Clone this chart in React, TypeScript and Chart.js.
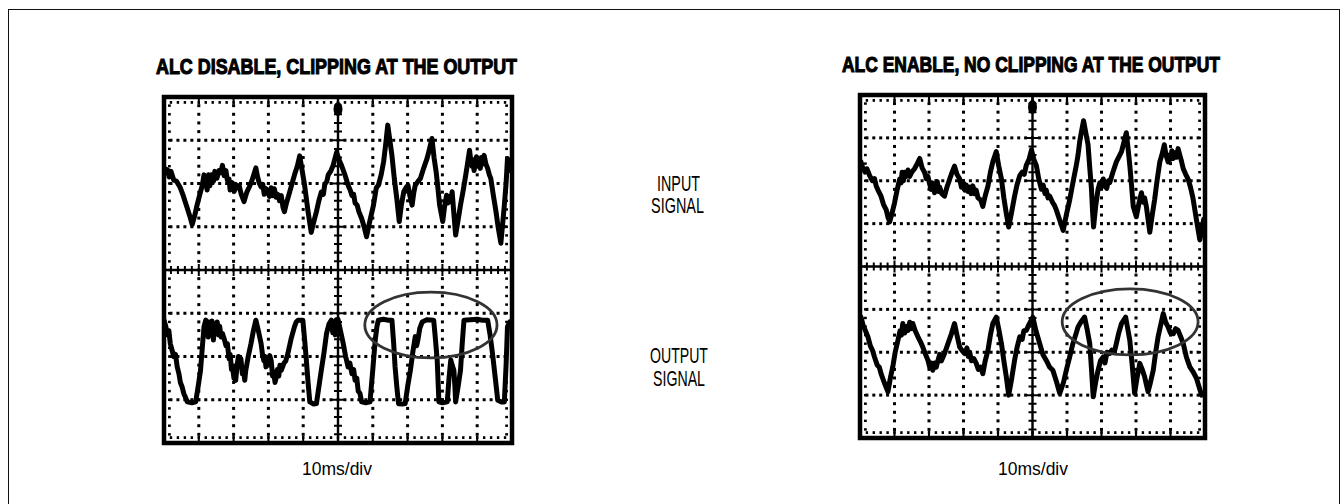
import React, { useEffect, useLayoutEffect, useRef } from "react";
import { Chart, registerables } from "chart.js";
Chart.register(...registerables);

// ---- data (x in time divisions 0..10, y in vertical divisions -4..4) ----
const xRange = [0, 10];
const yRange = [-4, 4];

const leftInput: [number, number][] = [
  [0, 2.38], [0.06, 2.25], [0.1, 2.32], [0.15, 2.15], [0.2, 2.28], [0.28, 2.08], [0.36, 2.05], [0.47, 1.9],
  [0.56, 1.7], [0.66, 1.45], [0.74, 1.25], [0.81, 1.05], [0.88, 1.25], [0.95, 1.5], [1.03, 1.75], [1.1, 1.96],
  [1.15, 2.2], [1.2, 2.05], [1.24, 1.85], [1.28, 2.2], [1.32, 1.95], [1.36, 2.2], [1.42, 2.05], [1.46, 2.28],
  [1.52, 2.12], [1.58, 2.3], [1.63, 2.25], [1.68, 2.42], [1.73, 2.18], [1.78, 2.3], [1.82, 2.08], [1.87, 2.1],
  [1.9, 1.85], [1.96, 2.02], [2.02, 1.82], [2.06, 1.98], [2.1, 1.9], [2.16, 1.95], [2.22, 1.75], [2.3, 1.58],
  [2.38, 1.8], [2.45, 1.92], [2.52, 2.05], [2.58, 2.2], [2.64, 2.36], [2.69, 2.15], [2.74, 2.0], [2.79, 1.92],
  [2.84, 1.98], [2.88, 1.75], [2.93, 1.88], [2.98, 1.82], [3.03, 1.7], [3.08, 1.9], [3.13, 1.72], [3.17, 1.88],
  [3.22, 1.68], [3.27, 1.75], [3.32, 1.6], [3.37, 1.72], [3.42, 1.45], [3.46, 1.35], [3.52, 1.55], [3.61, 1.8],
  [3.68, 2.0], [3.75, 2.2], [3.83, 2.4], [3.9, 2.64], [3.97, 2.3], [4.04, 1.96], [4.14, 1.35], [4.23, 0.87],
  [4.3, 1.1], [4.38, 1.35], [4.45, 1.6], [4.52, 1.8], [4.58, 1.75], [4.62, 1.98], [4.68, 2.05], [4.72, 2.2],
  [4.8, 2.3], [4.86, 2.42], [4.96, 2.72], [5.03, 2.55], [5.1, 2.42], [5.2, 2.2], [5.29, 1.96], [5.35, 1.85],
  [5.4, 1.72], [5.45, 1.75], [5.49, 1.55], [5.55, 1.5], [5.6, 1.35], [5.68, 1.19], [5.75, 1.0], [5.82, 0.77],
  [5.92, 1.15], [6.02, 1.5], [6.1, 1.9], [6.16, 1.96], [6.24, 2.2], [6.31, 2.5], [6.37, 2.9], [6.43, 3.35],
  [6.49, 3.0], [6.55, 2.65], [6.62, 2.1], [6.69, 1.65], [6.76, 1.12], [6.82, 1.5], [6.89, 1.81], [6.95, 1.9],
  [7.01, 1.96], [7.07, 1.7], [7.13, 1.5], [7.18, 1.8], [7.22, 1.96], [7.3, 2.05], [7.37, 2.12], [7.46, 2.35],
  [7.56, 2.58], [7.63, 2.8], [7.7, 3.04], [7.76, 2.6], [7.82, 2.27], [7.87, 1.9], [7.92, 1.5], [8.01, 1.12],
  [8.06, 1.45], [8.12, 1.73], [8.16, 1.55], [8.2, 1.7], [8.24, 1.58], [8.28, 1.81], [8.33, 1.3], [8.38, 0.81],
  [8.45, 1.15], [8.52, 1.5], [8.6, 1.85], [8.67, 2.19], [8.72, 2.45], [8.78, 2.77], [8.82, 2.5], [8.85, 2.4],
  [8.88, 2.55], [8.91, 2.3], [8.95, 2.48], [8.98, 2.62], [9.02, 2.4], [9.05, 2.5], [9.09, 2.35], [9.12, 2.6],
  [9.16, 2.45], [9.2, 2.65], [9.25, 2.45], [9.3, 2.35], [9.35, 2.2], [9.39, 2.12], [9.46, 1.75], [9.54, 1.35],
  [9.6, 1.0], [9.68, 0.62], [9.73, 1.05], [9.78, 1.5], [9.83, 2.0], [9.87, 2.58], [9.94, 2.3],
];

const leftOutput: [number, number][] = [
  [0, -1.16], [0.05, -1.3], [0.1, -1.5], [0.14, -1.4], [0.18, -1.7], [0.23, -1.85], [0.28, -2.0], [0.33, -1.95],
  [0.38, -2.24], [0.43, -2.4], [0.47, -2.6], [0.52, -2.7], [0.57, -2.86], [0.62, -2.95], [0.67, -3.05], [0.8, -3.07],
  [0.91, -3.05], [0.98, -2.7], [1.05, -2.32], [1.1, -1.8], [1.15, -1.31], [1.2, -1.16], [1.24, -1.2], [1.27, -1.55],
  [1.3, -1.2], [1.34, -1.45], [1.38, -1.18], [1.42, -1.62], [1.46, -1.25], [1.5, -1.4], [1.53, -1.2], [1.57, -1.5],
  [1.6, -1.3], [1.64, -1.55], [1.68, -1.47], [1.74, -1.62], [1.78, -1.75], [1.82, -1.7], [1.87, -2.05], [1.9, -1.95],
  [1.94, -2.3], [1.97, -2.25], [2.01, -2.5], [2.06, -2.55], [2.1, -2.2], [2.14, -2.0], [2.18, -2.15], [2.21, -2.05],
  [2.25, -2.4], [2.28, -2.3], [2.32, -2.55], [2.35, -2.32], [2.42, -2.0], [2.5, -1.7], [2.57, -1.4], [2.64, -1.16],
  [2.71, -1.4], [2.79, -1.7], [2.83, -1.95], [2.87, -2.1], [2.9, -2.0], [2.93, -2.24], [2.97, -2.05], [3.0, -2.2],
  [3.04, -1.98], [3.08, -2.1], [3.12, -2.45], [3.15, -2.35], [3.19, -2.6], [3.22, -2.5], [3.26, -2.3], [3.3, -2.45],
  [3.33, -2.2], [3.37, -2.32], [3.45, -2.15], [3.5, -2.1], [3.56, -1.93], [3.65, -1.6], [3.75, -1.31], [3.8, -1.2],
  [3.85, -1.16], [3.99, -1.16], [4.04, -1.6], [4.09, -2.08], [4.14, -2.6], [4.19, -3.05], [4.3, -3.1], [4.38, -3.09],
  [4.45, -2.7], [4.52, -2.32], [4.6, -1.9], [4.67, -1.47], [4.74, -1.25], [4.81, -1.16], [4.85, -1.45], [4.88, -1.2],
  [4.92, -1.5], [4.95, -1.15], [5.0, -1.14], [5.07, -1.4], [5.15, -1.7], [5.22, -2.0], [5.29, -2.24], [5.34, -2.15],
  [5.4, -2.4], [5.45, -2.3], [5.49, -2.55], [5.54, -2.5], [5.58, -2.8], [5.63, -2.85], [5.68, -3.05], [5.8, -3.07],
  [5.92, -3.05], [6.0, -2.3], [6.07, -1.62], [6.12, -1.3], [6.16, -1.16], [6.3, -1.14], [6.45, -1.16], [6.55, -1.16],
  [6.6, -1.7], [6.64, -2.24], [6.69, -2.7], [6.74, -3.09], [6.85, -3.1], [6.93, -3.09], [7.0, -2.7], [7.08, -2.32],
  [7.15, -1.9], [7.22, -1.54], [7.26, -1.75], [7.3, -1.6], [7.35, -1.35], [7.42, -1.2], [7.55, -1.15], [7.75, -1.16],
  [7.8, -1.6], [7.85, -2.08], [7.9, -3.05], [8.0, -3.07], [8.14, -3.05], [8.19, -2.5], [8.24, -2.08], [8.28, -2.2],
  [8.33, -2.32], [8.36, -2.7], [8.38, -3.05], [8.45, -2.7], [8.52, -2.32], [8.57, -1.7], [8.62, -1.16], [8.8, -1.15],
  [9.0, -1.14], [9.15, -1.16], [9.3, -1.16], [9.37, -1.5], [9.44, -1.93], [9.52, -2.5], [9.59, -3.01], [9.7, -3.05],
  [9.78, -3.05], [9.83, -2.2], [9.87, -1.31], [9.94, -1.2],
];

const rightInput: [number, number][] = [
  [0.03, 2.44], [0.08, 2.3], [0.15, 2.2], [0.2, 2.28], [0.28, 2.12], [0.36, 2.0], [0.42, 2.05], [0.47, 1.88],
  [0.54, 1.75], [0.61, 1.64], [0.68, 1.45], [0.76, 1.32], [0.81, 1.15], [0.86, 1.04], [0.93, 1.25], [1.0, 1.48],
  [1.08, 1.8], [1.15, 2.04], [1.19, 1.95], [1.22, 2.2], [1.26, 2.0], [1.29, 2.2], [1.34, 2.1], [1.39, 2.25],
  [1.44, 2.1], [1.5, 2.2], [1.58, 2.28], [1.66, 2.4], [1.73, 2.52], [1.8, 2.3], [1.87, 2.2], [1.92, 2.05],
  [1.97, 2.1], [2.02, 1.92], [2.06, 1.8], [2.1, 1.95], [2.16, 1.72], [2.2, 1.85], [2.24, 1.98], [2.28, 1.75],
  [2.31, 1.85], [2.37, 1.7], [2.45, 1.64], [2.52, 1.85], [2.6, 2.04], [2.67, 2.2], [2.74, 2.34], [2.81, 2.15],
  [2.89, 2.04], [2.94, 1.85], [3.0, 1.95], [3.04, 1.78], [3.08, 1.9], [3.13, 1.75], [3.18, 1.85], [3.22, 1.7],
  [3.27, 1.88], [3.32, 1.7], [3.37, 1.78], [3.42, 1.6], [3.5, 1.55], [3.56, 1.4], [3.63, 1.65], [3.71, 1.88],
  [3.78, 2.2], [3.85, 2.44], [3.95, 2.68], [4.02, 2.35], [4.1, 2.04], [4.17, 1.6], [4.24, 1.24], [4.31, 0.92],
  [4.39, 1.25], [4.48, 1.64], [4.55, 1.9], [4.63, 2.12], [4.7, 2.2], [4.76, 2.15], [4.82, 2.36], [4.9, 2.5],
  [4.97, 2.72], [5.04, 2.5], [5.11, 2.36], [5.18, 2.05], [5.26, 1.8], [5.31, 1.9], [5.36, 1.7], [5.4, 1.78],
  [5.45, 1.6], [5.5, 1.64], [5.58, 1.5], [5.64, 1.42], [5.69, 1.32], [5.78, 1.1], [5.89, 0.84], [5.98, 1.2],
  [6.08, 1.56], [6.17, 1.95], [6.27, 2.36], [6.32, 2.6], [6.37, 2.92], [6.42, 3.15], [6.48, 3.4], [6.55, 3.1],
  [6.61, 2.84], [6.66, 2.3], [6.71, 1.8], [6.74, 1.3], [6.77, 0.92], [6.83, 1.4], [6.9, 1.8], [6.95, 1.95],
  [7.0, 1.85], [7.05, 2.04], [7.1, 1.9], [7.15, 1.82], [7.2, 2.0], [7.24, 1.96], [7.33, 2.2], [7.43, 2.44],
  [7.5, 2.55], [7.58, 2.68], [7.65, 2.9], [7.72, 3.12], [7.77, 2.75], [7.82, 2.36], [7.87, 1.9], [7.92, 1.4],
  [8.01, 1.16], [8.08, 1.45], [8.12, 1.6], [8.16, 1.72], [8.2, 1.5], [8.25, 1.6], [8.3, 1.4], [8.35, 1.1],
  [8.4, 0.8], [8.47, 1.2], [8.54, 1.56], [8.61, 2.0], [8.69, 2.44], [8.75, 2.6], [8.82, 2.84], [8.87, 2.6],
  [8.93, 2.44], [8.97, 2.6], [9.0, 2.5], [9.04, 2.7], [9.08, 2.52], [9.12, 2.65], [9.18, 2.55], [9.22, 2.75],
  [9.27, 2.6], [9.32, 2.45], [9.37, 2.28], [9.44, 2.15], [9.51, 2.04], [9.58, 1.85], [9.65, 1.6], [9.75, 1.1],
  [9.85, 0.62], [9.96, 1.1],
];

const rightOutput: [number, number][] = [
  [0.03, -1.18], [0.1, -1.4], [0.16, -1.5], [0.23, -1.64], [0.3, -1.85], [0.36, -1.95], [0.42, -2.11], [0.5, -2.3],
  [0.56, -2.35], [0.61, -2.5], [0.7, -2.7], [0.81, -2.92], [0.88, -2.6], [0.95, -2.34], [1.02, -2.0], [1.1, -1.72],
  [1.16, -1.5], [1.2, -1.6], [1.24, -1.33], [1.3, -1.55], [1.35, -1.4], [1.39, -1.49], [1.44, -1.3], [1.49, -1.45],
  [1.53, -1.33], [1.6, -1.5], [1.68, -1.64], [1.75, -1.75], [1.82, -1.88], [1.9, -2.05], [1.97, -2.19], [2.02, -2.35],
  [2.06, -2.25], [2.11, -2.42], [2.16, -2.25], [2.21, -2.35], [2.26, -2.19], [2.31, -2.05], [2.36, -2.2], [2.45, -2.03],
  [2.55, -1.8], [2.65, -1.57], [2.74, -1.33], [2.81, -1.6], [2.89, -1.88], [2.95, -1.95], [3.03, -2.03], [3.1, -1.9],
  [3.14, -2.1], [3.18, -2.0], [3.23, -2.2], [3.3, -2.15], [3.37, -2.26], [3.43, -2.4], [3.5, -2.35], [3.56, -2.5],
  [3.63, -2.2], [3.71, -1.95], [3.78, -1.6], [3.85, -1.33], [3.95, -1.18], [4.02, -1.45], [4.1, -1.8], [4.17, -2.2],
  [4.24, -2.57], [4.31, -3.0], [4.4, -2.6], [4.48, -2.19], [4.55, -1.9], [4.63, -1.64], [4.7, -1.7], [4.75, -1.5],
  [4.82, -1.49], [4.9, -1.35], [5.01, -1.18], [5.1, -1.5], [5.21, -1.8], [5.3, -2.05], [5.4, -2.19], [5.5, -2.35],
  [5.59, -2.42], [5.7, -2.7], [5.79, -2.96], [5.9, -2.7], [5.98, -2.42], [6.08, -2.1], [6.17, -1.8], [6.25, -1.6],
  [6.32, -1.41], [6.4, -1.3], [6.51, -1.18], [6.58, -1.45], [6.66, -1.8], [6.71, -2.4], [6.76, -3.04], [6.83, -2.7],
  [6.9, -2.42], [6.97, -2.2], [7.05, -2.11], [7.1, -2.25], [7.16, -2.0], [7.24, -2.03], [7.3, -1.95], [7.37, -2.0],
  [7.43, -1.8], [7.5, -1.55], [7.58, -1.33], [7.7, -1.18], [7.76, -1.45], [7.82, -1.72], [7.89, -2.3], [7.96, -2.96],
  [8.03, -2.6], [8.11, -2.26], [8.18, -2.4], [8.25, -2.57], [8.3, -2.75], [8.35, -2.92], [8.42, -2.7], [8.5, -2.42],
  [8.57, -2.0], [8.64, -1.64], [8.72, -1.35], [8.79, -1.1], [8.86, -1.3], [8.93, -1.41], [9.0, -1.55], [9.08, -1.57],
  [9.15, -1.45], [9.22, -1.49], [9.3, -1.65], [9.37, -1.8], [9.46, -2.11], [9.56, -2.34], [9.65, -2.45], [9.75, -2.6],
  [9.9, -3.0],
];

// annotation ellipses (centre x, centre y, radius x, radius y) in division units
const leftEllipse = [7.67, -1.27, 1.9, 0.76];
const rightEllipse = [7.83, -1.29, 1.97, 0.77];

const leftTitle = "ALC DISABLE, CLIPPING AT THE OUTPUT";
const rightTitle = "ALC ENABLE, NO CLIPPING AT THE OUTPUT";
const inputLabel = ["INPUT", "SIGNAL"];
const outputLabel = ["OUTPUT", "SIGNAL"];
const timebase = "10ms/div";

// ---- drawing helpers ----
const scopePlugin = {
  id: "scopeGrid",
  beforeDatasetsDraw(chart: any) {
    const { ctx, chartArea: a, scales } = chart;
    const x = scales.x, y = scales.y;
    ctx.save();
    ctx.fillStyle = "#000";
    const d = 3;
    // dotted vertical grid lines
    for (let i = 1; i < 10; i++) {
      if (i === 5) continue;
      const px = x.getPixelForValue(i);
      for (let k = -19; k <= 19; k++) {
        const py = y.getPixelForValue(k * 0.2);
        ctx.fillRect(px - d / 2, py - d / 2, d, d);
      }
    }
    // dotted horizontal grid lines
    for (let j = -3; j <= 3; j++) {
      if (j === 0) continue;
      const py = y.getPixelForValue(j);
      for (let k = 1; k < 50; k++) {
        const px = x.getPixelForValue(k * 0.2);
        ctx.fillRect(px - d / 2, py - d / 2, d, d);
      }
    }
    // dots just inside the frame
    for (let k = 1; k < 50; k++) {
      const px = x.getPixelForValue(k * 0.2);
      ctx.fillRect(px - 1.2, a.top + 4, 2.4, 2.8);
      ctx.fillRect(px - 1.2, a.bottom - 6.8, 2.4, 2.8);
    }
    for (let k = -19; k <= 19; k++) {
      const py = y.getPixelForValue(k * 0.2);
      ctx.fillRect(a.left + 4, py - 1.2, 2.8, 2.4);
      ctx.fillRect(a.right - 6.8, py - 1.2, 2.8, 2.4);
    }
    // centre cross with minor ticks
    const cx = x.getPixelForValue(5);
    const cy = y.getPixelForValue(0);
    ctx.strokeStyle = "#000";
    ctx.lineWidth = 2.4;
    ctx.beginPath();
    ctx.moveTo(cx, a.top);
    ctx.lineTo(cx, a.bottom);
    ctx.moveTo(a.left, cy);
    ctx.lineTo(a.right, cy);
    ctx.stroke();
    ctx.lineWidth = 2;
    ctx.beginPath();
    for (let k = 1; k < 50; k++) {
      const px = x.getPixelForValue(k * 0.2);
      const len = k % 5 === 0 ? 6 : 4;
      ctx.moveTo(px, cy - len);
      ctx.lineTo(px, cy + len);
      ctx.moveTo(px, a.top);
      ctx.lineTo(px, a.top + (k % 5 === 0 ? 7 : 0));
      ctx.moveTo(px, a.bottom);
      ctx.lineTo(px, a.bottom - (k % 5 === 0 ? 7 : 0));
    }
    for (let k = -19; k <= 19; k++) {
      const py = y.getPixelForValue(k * 0.2);
      const len = k % 5 === 0 ? 6 : 4;
      ctx.moveTo(cx - len, py);
      ctx.lineTo(cx + len, py);
    }
    ctx.stroke();
    ctx.restore();
  },
  afterDatasetsDraw(chart: any, _args: any, opts: any) {
    const { ctx, chartArea: a, scales } = chart;
    const x = scales.x, y = scales.y;
    ctx.save();
    // frame
    ctx.strokeStyle = "#000";
    ctx.lineWidth = 4.5;
    ctx.strokeRect(a.left, a.top, a.right - a.left, a.bottom - a.top);
    // trigger marker
    const cx = x.getPixelForValue(5);
    ctx.fillStyle = "#000";
    ctx.beginPath();
    ctx.ellipse(cx, a.top + 12, 4.5, 7, 0, 0, Math.PI * 2);
    ctx.fill();
    // annotation ellipse
    const e = opts.ellipse as number[];
    if (e) {
      const ex = x.getPixelForValue(e[0]);
      const ey = y.getPixelForValue(e[1]);
      const rx = Math.abs(x.getPixelForValue(e[0] + e[2]) - ex);
      const ry = Math.abs(y.getPixelForValue(e[1] + e[3]) - ey);
      ctx.strokeStyle = "#333";
      ctx.lineWidth = 2.8;
      ctx.beginPath();
      ctx.ellipse(ex, ey, rx, ry, 0, 0, Math.PI * 2);
      ctx.stroke();
    }
    ctx.restore();
  },
};

function Scope(props: {
  input: [number, number][];
  output: [number, number][];
  ellipse: number[];
  left: number;
  top: number;
  width: number;
  height: number;
}) {
  const ref = useRef<HTMLCanvasElement>(null);
  useEffect(() => {
    if (!ref.current) return;
    const mk = (pts: [number, number][]) => ({
      data: pts.map(([x, y]) => ({ x, y })),
      borderColor: "#000",
      borderWidth: 5,
      pointRadius: 0,
      tension: 0,
      fill: false,
      borderJoinStyle: "round" as const,
      borderCapStyle: "round" as const,
    });
    const chart = new Chart(ref.current, {
      type: "line",
      data: { datasets: [mk(props.input), mk(props.output)] },
      options: {
        animation: false,
        responsive: false,
        maintainAspectRatio: false,
        layout: { padding: 14 },
        scales: {
          x: { type: "linear", min: xRange[0], max: xRange[1], display: false },
          y: { type: "linear", min: yRange[0], max: yRange[1], display: false },
        },
        plugins: {
          legend: { display: false },
          tooltip: { enabled: false },
          scopeGrid: { ellipse: props.ellipse },
        } as any,
      },
      plugins: [scopePlugin],
    });
    return () => chart.destroy();
  }, []);
  return (
    <canvas
      ref={ref}
      width={props.width}
      height={props.height}
      style={{ position: "absolute", left: props.left, top: props.top, width: props.width, height: props.height }}
    />
  );
}

function FitText(props: {
  text: string;
  left: number;
  baseline: number;
  width: number;
  size: number;
  weight?: number;
  stroke?: number;
}) {
  const ref = useRef<HTMLDivElement>(null);
  useLayoutEffect(() => {
    const el = ref.current;
    if (!el) return;
    el.style.transform = "none";
    const w = el.getBoundingClientRect().width;
    el.style.transform = `scaleX(${props.width / w})`;
  }, []);
  return (
    <div
      ref={ref}
      style={{
        position: "absolute",
        left: props.left,
        top: props.baseline - props.size * 0.85,
        fontFamily: '"Liberation Sans", Arial, sans-serif',
        fontSize: props.size,
        fontWeight: props.weight ?? 400,
        lineHeight: 1,
        whiteSpace: "nowrap",
        transformOrigin: "0 0",
        color: "#000",
        WebkitTextStroke: props.stroke ? `${props.stroke}px #000` : undefined,
      }}
    >
      {props.text}
    </div>
  );
}

export default function App() {
  return (
    <div
      style={{
        position: "fixed",
        left: 0,
        top: 0,
        width: 1344,
        height: 504,
        overflow: "hidden",
        background: "#fff",
      }}
    >
      <div
        style={{
          position: "absolute",
          left: 7.5,
          top: 8.5,
          width: 1332,
          height: 600,
          border: "1.5px solid #111",
          boxSizing: "border-box",
        }}
      />
      <FitText text={leftTitle} left={156} baseline={75} width={361} size={22} weight={700} stroke={1.1} />
      <FitText text={rightTitle} left={842} baseline={73} width={378} size={22} weight={700} stroke={1.1} />
      <FitText text={inputLabel[0]} left={657} baseline={192} width={43} size={22} />
      <FitText text={inputLabel[1]} left={651} baseline={214} width={53} size={22} />
      <FitText text={outputLabel[0]} left={650} baseline={364} width={58} size={22} />
      <FitText text={outputLabel[1]} left={653} baseline={387} width={52} size={22} />
      <FitText text={timebase} left={302} baseline={475} width={70} size={19} />
      <FitText text={timebase} left={998} baseline={475} width={70} size={19} />
      <Scope input={leftInput} output={leftOutput} ellipse={leftEllipse} left={150} top={83} width={376} height={374} />
      <Scope input={rightInput} output={rightOutput} ellipse={rightEllipse} left={846} top={81} width={373} height={371} />
    </div>
  );
}
